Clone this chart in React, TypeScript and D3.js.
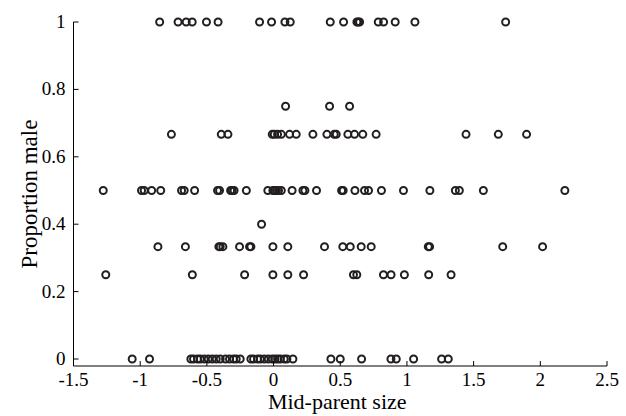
import React, { useEffect, useRef } from "react";
import * as d3 from "d3";

const levels = [1, 0.75, 2 / 3, 0.5, 0.4, 1 / 3, 0.25, 0];

const xAtOne = [-0.854, -0.716, -0.655, -0.61, -0.503, -0.416, -0.105, -0.015, 0.085, 0.125, 0.425, 0.525, 0.625, 0.635, 0.645, 0.785, 0.825, 0.912, 1.06, 1.74];
const xAtThreeQuarters = [0.09, 0.42, 0.57];
const xAtTwoThirds = [-0.766, -0.392, -0.342, -0.01, 0.005, 0.03, 0.058, 0.12, 0.17, 0.295, 0.4, 0.455, 0.47, 0.557, 0.607, 0.669, 0.769, 1.443, 1.685, 1.897];
const xAtHalf = [-1.277, -0.99, -0.97, -0.914, -0.846, -0.69, -0.67, -0.592, -0.42, -0.405, -0.322, -0.31, -0.296, -0.204, -0.043, -0.005, 0.008, 0.022, 0.037, 0.058, 0.139, 0.22, 0.235, 0.322, 0.51, 0.522, 0.61, 0.682, 0.712, 0.809, 0.974, 1.172, 1.363, 1.393, 1.573, 2.184];
const xAtTwoFifths = [-0.09];
const xAtThird = [-0.867, -0.661, -0.41, -0.4, -0.38, -0.255, -0.18, -0.17, -0.005, 0.107, 0.382, 0.519, 0.575, 0.657, 0.732, 1.16, 1.17, 1.718, 2.017];
const xAtQuarter = [-1.258, -0.609, -0.217, -0.005, 0.107, 0.225, 0.599, 0.624, 0.824, 0.881, 0.981, 1.163, 1.331];
const xAtZero = [-1.06, -0.93, -0.62, -0.6, -0.57, -0.55, -0.52, -0.49, -0.46, -0.43, -0.4, -0.36, -0.33, -0.3, -0.28, -0.25, -0.17, -0.15, -0.12, -0.1, -0.07, -0.04, -0.01, 0.01, 0.03, 0.05, 0.08, 0.1, 0.145, 0.43, 0.5, 0.66, 0.88, 0.92, 1.05, 1.26, 1.31];

const rows = [xAtOne, xAtThreeQuarters, xAtTwoThirds, xAtHalf, xAtTwoFifths, xAtThird, xAtQuarter, xAtZero];

const xTicks = [-1.5, -1, -0.5, 0, 0.5, 1, 1.5, 2, 2.5];
const xTickLabels = ["-1.5", "-1", "-0.5", "0", "0.5", "1", "1.5", "2", "2.5"];
const yTicks = [0, 0.2, 0.4, 0.6, 0.8, 1];
const yTickLabels = ["0", "0.2", "0.4", "0.6", "0.8", "1"];

const W = 626;
const H = 416;
const FONT = "'Liberation Serif', 'Times New Roman', Times, serif";

export default function App() {
  const ref = useRef<SVGSVGElement>(null);

  useEffect(() => {
    const svg = d3.select(ref.current);
    svg.selectAll("*").remove();

    const x = d3.scaleLinear().domain([-1.5, 2.5]).range([73.5, 607]);
    const y = d3.scaleLinear().domain([0, 1]).range([359, 22]);
    const yBottom = y(-0.0208);

    const pts: { x: number; y: number }[] = [];
    rows.forEach((r, i) => r.forEach((v) => pts.push({ x: v, y: levels[i] })));

    svg
      .append("g")
      .selectAll("circle")
      .data(pts)
      .join("circle")
      .attr("cx", (d) => x(d.x))
      .attr("cy", (d) => y(d.y))
      .attr("r", 3.5)
      .attr("fill", "none")
      .attr("stroke", "#231f20")
      .attr("stroke-width", 2);

    const ax = svg.append("g").attr("stroke", "#000").attr("stroke-width", 1).attr("fill", "none");
    ax.append("line").attr("x1", x(-1.5)).attr("x2", x(2.5)).attr("y1", yBottom).attr("y2", yBottom);
    ax.append("line").attr("x1", x(-1.5)).attr("x2", x(-1.5)).attr("y1", y(1)).attr("y2", yBottom);

    xTicks.forEach((t) => {
      ax.append("line").attr("x1", x(t)).attr("x2", x(t)).attr("y1", yBottom).attr("y2", yBottom - 5);
    });
    yTicks.forEach((t) => {
      ax.append("line").attr("x1", x(-1.5)).attr("x2", x(-1.5) + 5).attr("y1", y(t)).attr("y2", y(t));
    });

    const tl = svg.append("g").attr("font-family", FONT).attr("font-size", 19).attr("fill", "#000");
    xTicks.forEach((t, i) => {
      tl.append("text").attr("x", x(t)).attr("y", 386).attr("text-anchor", "middle").text(xTickLabels[i]);
    });
    yTicks.forEach((t, i) => {
      tl.append("text")
        .attr("x", x(-1.5) - 8)
        .attr("y", y(t))
        .attr("dy", "0.32em")
        .attr("text-anchor", "end")
        .text(yTickLabels[i]);
    });

    svg
      .append("text")
      .attr("x", (x(-1.5) + x(2.5)) / 2 - 3)
      .attr("y", 409)
      .attr("text-anchor", "middle")
      .attr("font-family", FONT)
      .attr("font-size", 22)
      .text("Mid-parent size");

    svg
      .append("text")
      .attr("transform", `translate(37,${(y(1) + yBottom) / 2}) rotate(-90)`)
      .attr("text-anchor", "middle")
      .attr("font-family", FONT)
      .attr("font-size", 23)
      .text("Proportion male");
  }, []);

  return (
    <svg
      ref={ref}
      width={W}
      height={H}
      style={{ position: "absolute", left: 0, top: 0, background: "#fff" }}
    />
  );
}
